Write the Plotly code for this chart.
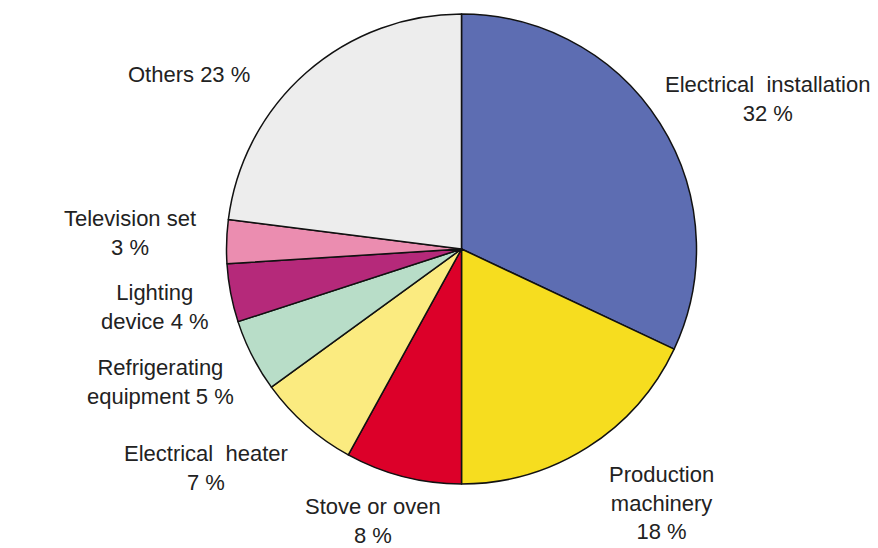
import plotly.graph_objects as go

# Share of electrical fires by source (%)
categories = [
    "Electrical  installation",
    "Production<br>machinery",
    "Stove or oven",
    "Electrical  heater",
    "Refrigerating<br>equipment",
    "Lighting<br>device",
    "Television set",
    "Others",
]
shares = [32, 18, 8, 7, 5, 4, 3, 23]
colors = ["#5D6DB2", "#F6DD1F", "#DC0029", "#FBEB80", "#B8DDC8", "#B5297A", "#EB8DB0", "#EDEDED"]

# how each label joins its percentage: new line or same line
joiners = ["<br>", "<br>", "<br>", "<br>", " ", " ", "<br>", " "]

# label centre positions in pixels (x, y of label centre)
W, H = 878, 548
label_px = [
    (767, 99),
    (661, 503),
    (373, 521),
    (206, 468),
    (160, 382),
    (155, 307),
    (130, 233),
    (189, 75),
]

fig = go.Figure(
    go.Pie(
        labels=categories,
        values=shares,
        sort=False,
        direction="clockwise",
        rotation=0,
        marker=dict(colors=colors, line=dict(color="#111111", width=1.5)),
        textinfo="none",
        hoverinfo="label+percent",
        domain=dict(x=[226 / W, 697 / W], y=[1 - 484 / H, 1 - 14 / H]),
        showlegend=False,
    )
)

for name, val, j, (px, py) in zip(categories, shares, joiners, label_px):
    fig.add_annotation(
        x=px / W,
        y=1 - py / H,
        xref="paper",
        yref="paper",
        text=f"{name}{j}{val} %",
        showarrow=False,
        xanchor="center",
        yanchor="middle",
        align="center",
        font=dict(family="Liberation Sans, Arial, sans-serif", size=22, color="#222222"),
    )

fig.update_layout(
    width=W,
    height=H,
    margin=dict(l=0, r=0, t=0, b=0),
    paper_bgcolor="white",
    plot_bgcolor="white",
)

fig.write_html("out.html")
